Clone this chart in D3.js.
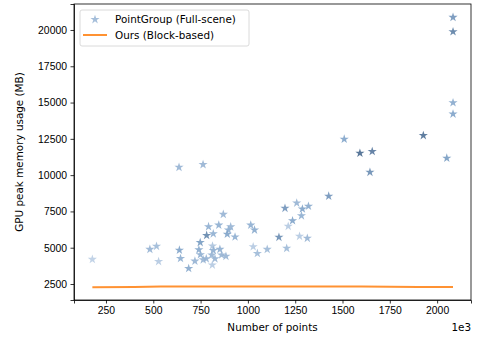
<!DOCTYPE html>
<html>
<head>
<meta charset="utf-8">
<script src="https://cdn.jsdelivr.net/npm/d3@7"></script>
<style>
  body { margin: 0; background: #fff; }
  svg { font-family: "DejaVu Sans", sans-serif; }
  .axis text { font-size: 10.4px; fill: #000; }
  .axis path, .axis line { stroke: #000; stroke-width: 0.8; }
</style>
</head>
<body>
<div id="chart"></div>
<script>
// PointGroup (full-scene): number of points (x1e3), peak memory (MB), shade 0..1
var pgPoints = [178, 482, 517, 528, 636, 763, 638, 644, 687, 720, 748, 741, 749, 764, 780,
  782, 792, 817, 813, 817, 809, 826, 812, 846, 852, 861, 884, 870, 909, 897, 891, 932,
  1015, 1035, 1028, 1050, 1102, 1164, 1196, 1205, 1213, 1236, 1258, 1273, 1283, 1288,
  1314, 1320, 1427, 1509, 1592, 1657, 1645, 1927, 2051, 2084, 2084, 2084, 2084];
var pgMemory = [4200, 4890, 5100, 4050, 10540, 10730, 4830, 4260, 3570, 4080, 5360, 4860,
  4520, 4170, 4240, 5850, 6450, 5960, 5120, 4810, 4500, 4240, 3810, 6560, 4890, 4500,
  4410, 7300, 6440, 6220, 5930, 5740, 6560, 6220, 5070, 4610, 4890, 5720, 7720, 4960,
  6480, 6860, 8080, 5790, 7200, 7670, 5650, 7860, 8550, 12480, 11510, 11630, 10200,
  12730, 11170, 20870, 19880, 14990, 14210];
var pgShade = [0.1, 0.35, 0.3, 0.15, 0.35, 0.35, 0.5, 0.4, 0.45, 0.35, 0.55, 0.45, 0.4,
  0.35, 0.35, 0.7, 0.4, 0.4, 0.2, 0.4, 0.35, 0.35, 0.15, 0.4, 0.4, 0.35, 0.35, 0.35,
  0.35, 0.4, 0.5, 0.4, 0.4, 0.45, 0.15, 0.3, 0.3, 0.65, 0.6, 0.3, 0.15, 0.5, 0.35,
  0.15, 0.4, 0.5, 0.35, 0.45, 0.6, 0.5, 0.9, 0.8, 0.65, 0.85, 0.55, 0.6, 0.75, 0.45, 0.5];

// Ours (block-based)
var oursPoints = [178, 400, 540, 700, 1000, 1300, 1600, 1750, 1900, 2084];
var oursMemory = [2280, 2290, 2320, 2330, 2335, 2335, 2330, 2310, 2300, 2300];

var xTicks = [250, 500, 750, 1000, 1250, 1500, 1750, 2000];
var yTicks = [2500, 5000, 7500, 10000, 12500, 15000, 17500, 20000];

var width = 481, height = 338;
var margin = { left: 74, right: 10, top: 4, bottom: 38 };

var svg = d3.select("#chart").append("svg")
  .attr("width", width)
  .attr("height", height);

var x = d3.scaleLinear().domain([81, 2179]).range([margin.left, width - margin.right]);
var y = d3.scaleLinear().domain([1398, 21790]).range([height - margin.bottom, margin.top]);

var shadeColor = d3.scaleLinear()
  .domain([0, 0.5, 1])
  .range(["#cad9eb", "#7fa3c9", "#3a5a80"]);

svg.append("g")
  .attr("class", "axis")
  .attr("transform", "translate(0," + (height - margin.bottom) + ")")
  .call(d3.axisBottom(x).tickValues(xTicks).tickSize(3.5).tickPadding(3.5).tickFormat(d3.format("d")));

svg.append("g")
  .attr("class", "axis")
  .attr("transform", "translate(" + margin.left + ",0)")
  .call(d3.axisLeft(y).tickValues(yTicks).tickSize(3.5).tickPadding(3.5).tickFormat(d3.format("d")));

// stars
var star = d3.symbol().type(d3.symbolStar).size(26);
svg.selectAll(".pg")
  .data(pgPoints)
  .enter()
  .append("path")
    .attr("class", "pg")
    .attr("d", star)
    .attr("transform", function(d, i) { return "translate(" + x(d) + "," + y(pgMemory[i]) + ")"; })
    .attr("fill", function(d, i) { return shadeColor(pgShade[i]); })
    .attr("fill-opacity", 0.9);

// line
var line = d3.line()
  .x(function(d) { return x(d); })
  .y(function(d, i) { return y(oursMemory[i]); });

svg.append("path")
  .attr("d", line(oursPoints))
  .attr("fill", "none")
  .attr("stroke", "#ff7f0e")
  .attr("stroke-opacity", 0.85)
  .attr("stroke-width", 2);

// frame
svg.append("rect")
  .attr("x", margin.left)
  .attr("y", margin.top)
  .attr("width", width - margin.left - margin.right)
  .attr("height", height - margin.top - margin.bottom)
  .attr("fill", "none")
  .attr("stroke", "#000")
  .attr("stroke-width", 0.8);

// labels
svg.append("text")
  .attr("x", (margin.left + width - margin.right) / 2)
  .attr("y", 331)
  .attr("text-anchor", "middle")
  .attr("font-size", 10.4)
  .text("Number of points");

svg.append("text")
  .attr("x", width - margin.right)
  .attr("y", 331)
  .attr("text-anchor", "end")
  .attr("font-size", 10.4)
  .text("1e3");

svg.append("text")
  .attr("transform", "translate(23," + ((margin.top + height - margin.bottom) / 2) + ") rotate(-90)")
  .attr("text-anchor", "middle")
  .attr("font-size", 10.4)
  .text("GPU peak memory usage (MB)");

// legend
var legend = svg.append("g").attr("transform", "translate(80,10)");
legend.append("rect")
  .attr("width", 169)
  .attr("height", 36)
  .attr("rx", 2)
  .attr("fill", "#fff")
  .attr("fill-opacity", 0.8)
  .attr("stroke", "#d0d0d0")
  .attr("stroke-width", 0.8);
legend.append("path")
  .attr("d", star)
  .attr("transform", "translate(15,9.5)")
  .attr("fill", shadeColor(0.25));
legend.append("text")
  .attr("x", 35).attr("y", 13.3)
  .attr("font-size", 10.4)
  .text("PointGroup (Full-scene)");
legend.append("line")
  .attr("x1", 3).attr("x2", 27)
  .attr("y1", 25).attr("y2", 25)
  .attr("stroke", "#ff7f0e")
  .attr("stroke-opacity", 0.85)
  .attr("stroke-width", 2);
legend.append("text")
  .attr("x", 35).attr("y", 29)
  .attr("font-size", 10.4)
  .text("Ours (Block-based)");
</script>
</body>
</html>
